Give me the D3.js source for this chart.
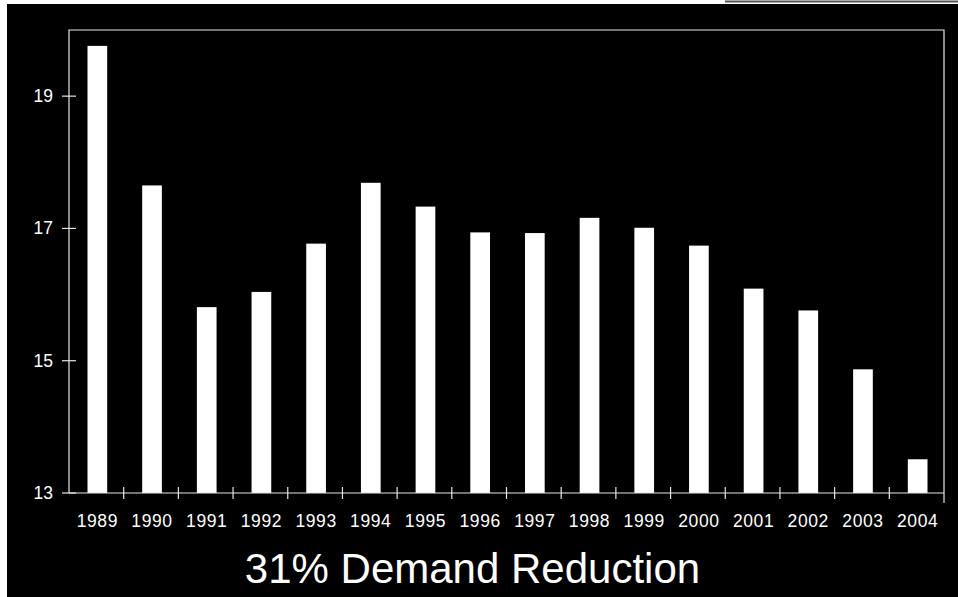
<!DOCTYPE html>
<html>
<head>
<meta charset="utf-8">
<script src="https://cdn.jsdelivr.net/npm/d3@7"></script>
<style>
  html, body { margin: 0; padding: 0; background: #fff; }
  svg { display: block; }
  text { font-family: "Liberation Sans", Arial, sans-serif; fill: #fff; }
</style>
</head>
<body>
<svg id="chart" width="958" height="597"></svg>
<script>
const years = ["1989","1990","1991","1992","1993","1994","1995","1996","1997","1998","1999","2000","2001","2002","2003","2004"];
const demand = [19.76, 17.65, 15.81, 16.04, 16.77, 17.69, 17.33, 16.94, 16.93, 17.16, 17.01, 16.74, 16.09, 15.76, 14.87, 13.51];
const yTicks = [13, 15, 17, 19];
const yDomain = [13, 20];
const title = "31% Demand Reduction";

const svg = d3.select("#chart");
const W = 958, H = 597;
const m = { left: 69, top: 30, right: 944, bottom: 493 };

// page: white margin with black slide
svg.append("rect").attr("x", 0).attr("y", 0).attr("width", W).attr("height", H).attr("fill", "#fff");
svg.append("rect").attr("x", 7).attr("y", 4).attr("width", W - 7).attr("height", H - 4).attr("fill", "#000");
svg.append("line").attr("x1", 725).attr("x2", W).attr("y1", 1.5).attr("y2", 1.5)
  .attr("stroke", "#555").attr("stroke-width", 2);

const x = d3.scaleBand().domain(years).range([m.left, m.right]).padding(0);
const y = d3.scaleLinear().domain(yDomain).range([m.bottom, m.top]);

const lineColor = "#e6e6e6";

// frame
svg.append("path")
  .attr("d", `M${m.left},${m.bottom}V${m.top}H${m.right}V${m.bottom + 10}`)
  .attr("fill", "none").attr("stroke", lineColor).attr("stroke-width", 1.2);

// bars
const barFrac = 0.36;
svg.append("g").selectAll("rect").data(years).join("rect")
  .attr("x", (d) => x(d) + x.bandwidth() * (1 - barFrac) / 2 + 1)
  .attr("width", x.bandwidth() * barFrac)
  .attr("y", (d, i) => y(demand[i]))
  .attr("height", (d, i) => y(yDomain[0]) - y(demand[i]))
  .attr("fill", "#fff");

// x axis line
svg.append("line").attr("x1", m.left).attr("x2", m.right)
  .attr("y1", m.bottom).attr("y2", m.bottom)
  .attr("stroke", lineColor).attr("stroke-width", 1.2);

// x ticks at category boundaries
svg.append("g").selectAll("line").data(years.slice(1)).join("line")
  .attr("x1", (d) => x(d)).attr("x2", (d) => x(d))
  .attr("y1", m.bottom - 6).attr("y2", m.bottom + 6)
  .attr("stroke", lineColor).attr("stroke-width", 1.2);

// x labels
svg.append("g").selectAll("text").data(years).join("text")
  .attr("x", (d) => x(d) + x.bandwidth() / 2 + 1)
  .attr("y", 527)
  .attr("text-anchor", "middle")
  .attr("font-size", 17.5)
  .attr("letter-spacing", 0.6)
  .text((d) => d);

// y ticks
const yg = svg.append("g");
yg.selectAll("line").data(yTicks).join("line")
  .attr("x1", m.left - 7).attr("x2", m.left + 7)
  .attr("y1", (d) => y(d)).attr("y2", (d) => y(d))
  .attr("stroke", lineColor).attr("stroke-width", 1.2);
yg.selectAll("text").data(yTicks).join("text")
  .attr("x", 53)
  .attr("y", (d) => y(d) + 6)
  .attr("text-anchor", "end")
  .attr("font-size", 17.5)
  .text((d) => d);

// title
svg.append("text")
  .attr("x", 472.5).attr("y", 583)
  .attr("text-anchor", "middle")
  .attr("font-size", 42)
  .text(title);
</script>
</body>
</html>
